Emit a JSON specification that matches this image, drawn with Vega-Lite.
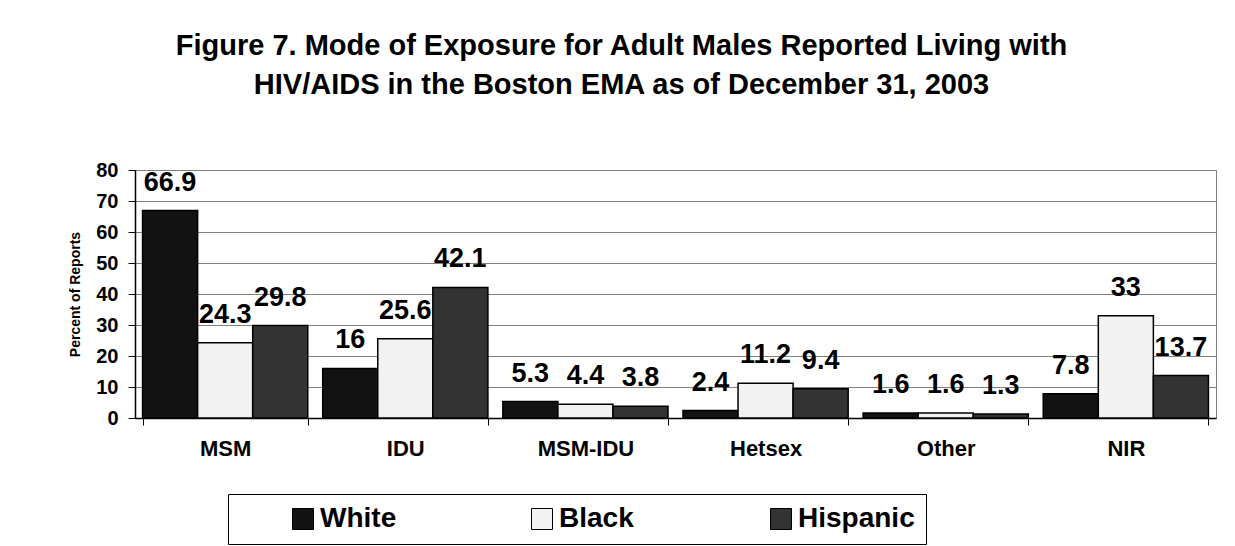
{
  "$schema": "https://vega.github.io/schema/vega-lite/v6.json",
  "autosize": {"type": "none"},
  "width": 1081,
  "height": 248,
  "padding": {"left": 135, "top": 170, "right": 19, "bottom": 128},
  "background": "white",
  "title": {
    "text": ["Figure 7. Mode of Exposure for Adult Males Reported Living with", "HIV/AIDS in the Boston EMA as of December 31, 2003"],
    "font": "Liberation Sans",
    "fontSize": 29,
    "fontWeight": "bold",
    "color": "black",
    "lineHeight": 39,
    "anchor": "middle",
    "dx": -54,
    "offset": 60
  },
  "config": {
    "view": {"stroke": "#808080", "strokeWidth": 1},
    "font": "Liberation Sans",
    "axis": {"labelFont": "Liberation Sans", "titleFont": "Liberation Sans", "labelColor": "black", "titleColor": "black", "domainColor": "black", "tickColor": "black"},
    "legend": {"labelFont": "Liberation Sans", "titleFont": "Liberation Sans"}
  },
  "data": {
    "values": [
      {"mode": "MSM", "race": "White", "pct": 66.9},
      {"mode": "MSM", "race": "Black", "pct": 24.3},
      {"mode": "MSM", "race": "Hispanic", "pct": 29.8},
      {"mode": "IDU", "race": "White", "pct": 16},
      {"mode": "IDU", "race": "Black", "pct": 25.6},
      {"mode": "IDU", "race": "Hispanic", "pct": 42.1},
      {"mode": "MSM-IDU", "race": "White", "pct": 5.3},
      {"mode": "MSM-IDU", "race": "Black", "pct": 4.4},
      {"mode": "MSM-IDU", "race": "Hispanic", "pct": 3.8},
      {"mode": "Hetsex", "race": "White", "pct": 2.4},
      {"mode": "Hetsex", "race": "Black", "pct": 11.2},
      {"mode": "Hetsex", "race": "Hispanic", "pct": 9.4},
      {"mode": "Other", "race": "White", "pct": 1.6},
      {"mode": "Other", "race": "Black", "pct": 1.6},
      {"mode": "Other", "race": "Hispanic", "pct": 1.3},
      {"mode": "NIR", "race": "White", "pct": 7.8},
      {"mode": "NIR", "race": "Black", "pct": 33},
      {"mode": "NIR", "race": "Hispanic", "pct": 13.7}
    ]
  },
  "encoding": {
    "x": {
      "field": "mode", "type": "nominal",
      "sort": ["MSM", "IDU", "MSM-IDU", "Hetsex", "Other", "NIR"],
      "scale": {"paddingInner": 0.083, "paddingOuter": 0.042},
      "axis": {"title": null, "labelAngle": 0, "labelFontSize": 22, "labelFontWeight": "bold", "labelPadding": 13, "tickBand": "extent", "tickSize": 7, "grid": false, "domainColor": "black", "domainWidth": 1.5}
    },
    "xOffset": {"field": "race", "type": "nominal", "sort": ["White", "Black", "Hispanic"], "scale": {"paddingInner": 0, "paddingOuter": 0}},
    "y": {
      "field": "pct", "type": "quantitative",
      "scale": {"domain": [0, 80], "nice": false},
      "axis": {"title": "Percent of Reports", "titleFontSize": 14, "titleFontWeight": "bold", "titlePadding": 13, "values": [0, 10, 20, 30, 40, 50, 60, 70, 80], "labelFontSize": 20, "labelFontWeight": "bold", "labelPadding": 10, "tickSize": 7, "gridColor": "#808080", "gridWidth": 1, "domainColor": "black", "domainWidth": 1.5}
    }
  },
  "layer": [
    {
      "mark": {"type": "bar", "stroke": "black", "strokeWidth": 1.5},
      "encoding": {
        "fill": {
          "field": "race", "type": "nominal",
          "scale": {"domain": ["White", "Black", "Hispanic"], "range": ["#121212", "#f2f2f2", "#333333"]},
          "legend": {
            "orient": "none", "legendX": 93, "legendY": 324,
            "direction": "horizontal", "columns": 3, "gridAlign": "all", "columnPadding": 91,
            "title": " ", "titleOrient": "left", "titleFontSize": 28, "titlePadding": 50,
            "symbolType": "square", "symbolSize": 441, "symbolStrokeColor": "black", "symbolStrokeWidth": 1,
            "labelFontSize": 28, "labelFontWeight": "bold", "labelColor": "black", "labelOffset": 3, "labelLimit": 300,
            "padding": 11, "strokeColor": "black", "fillColor": "white"
          }
        }
      }
    },
    {
      "mark": {"type": "text", "baseline": "alphabetic", "dy": -20, "fontSize": 27, "fontWeight": "bold", "color": "black", "font": "Liberation Sans"},
      "encoding": {
        "text": {"field": "pct", "type": "quantitative", "format": ".3~r"}
      }
    }
  ]
}
